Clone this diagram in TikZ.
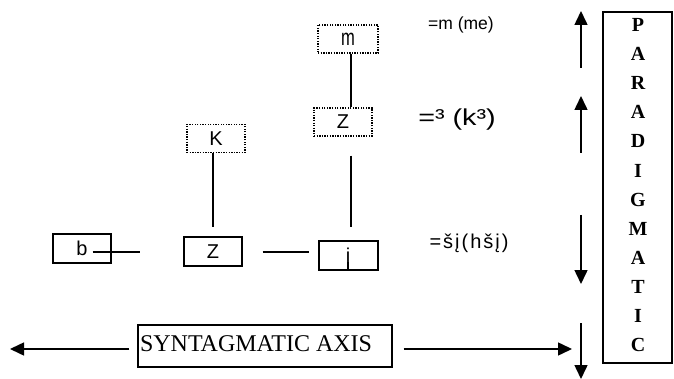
\documentclass[tikz,border=0pt]{standalone}
\usepackage{fontspec}
\setmainfont{Liberation Serif}
\newfontfamily\tsans[FakeStretch=0.72]{Liberation Sans}
\newfontfamily\wsans{Liberation Sans}
\newfontfamily\xsans[FakeStretch=1.25]{Liberation Sans}
\newfontfamily\lsans[LetterSpace=10]{Liberation Sans}
\usetikzlibrary{arrows.meta}
\begin{document}
\begin{tikzpicture}[x=1pt,y=-1pt,
  solidbox/.style={draw,line width=1.1pt,minimum width=58pt,minimum height=29pt,inner sep=0pt,font=\wsans\fontsize{20}{20}\selectfont},
  dotbox/.style={draw,line width=1.3pt,dash pattern=on 1.3pt off 1.3pt,minimum width=58pt,minimum height=28pt,inner sep=0pt,font=\wsans\fontsize{20}{20}\selectfont},
  conn/.style={line width=1.5pt},
  axarrow/.style={line width=1.5pt,-{Triangle[length=14pt,width=13pt]}},
  eqtext/.style={inner sep=0pt,anchor=center},
  letter/.style={inner sep=0pt,font=\bfseries\fontsize{20}{20}\selectfont}
]
\useasboundingbox (0,0) rectangle (674,379);

% nodes
\node[solidbox] (b) at (82,248.5) {b};
\node[solidbox] (Z1) at (213,251.5) {Z};
\node[solidbox,minimum width=59pt] (J) at (348.5,255.5) {};
\node[inner sep=0pt,font=\wsans\fontsize{20}{20}\selectfont,anchor=base] (Jt) at (348,262) {i};
\node[dotbox] (K) at (216,138.5) {K};
\node[dotbox] (Z2) at (343,122) {Z};
\node[dotbox,minimum width=60pt,font=\tsans\fontsize{23}{23}\selectfont] (M) at (348,39) {m};

% connectors
\coordinate (col) at (351,0);
\draw[conn] (M.south -| col) -- (Z2.north -| col);
\draw[conn] (K.south -| Z1) -- ([yshift=9pt]Z1.north);
\draw[conn] ([yshift=-19pt]Z2.south -| col) -- ([yshift=13pt]J.north -| col);
\draw[conn] ([xshift=-19pt]b.east |- 0,252) -- ([xshift=28pt]b.east |- 0,252);
\draw[conn] ([xshift=20pt]Z1.east |- 0,252) -- ([xshift=-9pt]J.west |- 0,252);
\draw[line width=1.6pt] (J.south -| Jt) -- (Jt.base);

% right side texts
\node[eqtext,font=\wsans\fontsize{17.5}{17.5}\selectfont] (t1) at (461,25) {=m (me)};
\node[eqtext,font=\xsans\fontsize{23}{23}\selectfont] (t2) at (457,120) {=³ (k³)};
\node[eqtext,font=\lsans\fontsize{20}{20}\selectfont] (t3) at (469,243) {=šį(hšį)};

% vertical arrows
\coordinate (a1s) at (581,68);  \coordinate (a1e) at (581,11);
\coordinate (a2s) at (581,153); \coordinate (a2e) at (581,96);
\coordinate (a3s) at (581,215); \coordinate (a3e) at (581,284);
\coordinate (a4s) at (581,323); \coordinate (a4e) at (581,379);
\draw[axarrow] (a1s) -- (a1e);
\draw[axarrow] (a2s) -- (a2e);
\draw[axarrow] (a3s) -- (a3e);
\draw[axarrow] (a4s) -- (a4e);

% paradigmatic box
\node[draw,line width=1.1pt,minimum width=69pt,minimum height=351pt,inner sep=0pt] (P) at (637.5,187.5) {};
\foreach \l [count=\i from 0] in {P,A,R,A,D,I,G,M,A,T,I,C}{
  \node[letter] at (638,{25+\i*29.1}) {\l};
}

% syntagmatic axis
\node[draw,line width=1.1pt,minimum width=254pt,minimum height=42pt,inner sep=0pt,font=\fontsize{24}{24}\selectfont] (S) at (265,346) {\makebox[252pt][l]{\hspace{1pt}\raisebox{4pt}{SYNTAGMATIC AXIS}}};
\coordinate (sl) at (10,349);
\coordinate (sr) at (572,349);
\draw[axarrow] ([xshift=-8pt]S.west |- sl) -- (sl);
\draw[axarrow] ([xshift=11pt]S.east |- sr) -- (sr);
\end{tikzpicture}
\end{document}
